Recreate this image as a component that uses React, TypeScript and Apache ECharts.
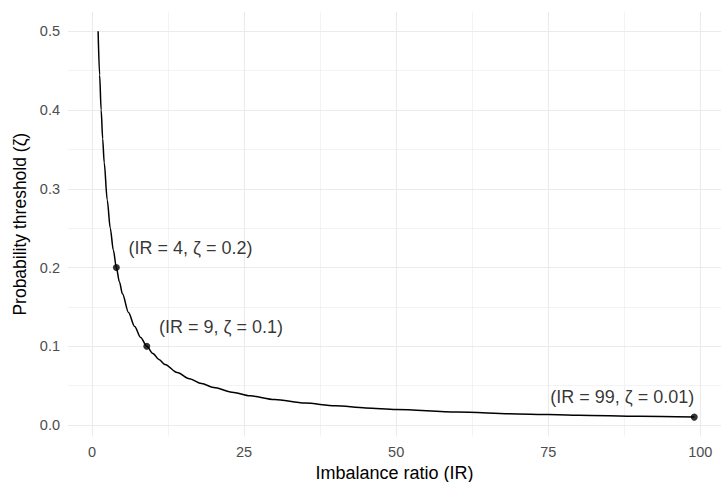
import React, { useEffect, useRef } from "react";
import * as echarts from "echarts";

// Curve: imbalance ratio vs probability threshold
const irValues = [1, 1.25, 1.5, 1.75, 2, 2.5, 3, 3.5, 4, 4.5, 5, 6, 7, 8, 9, 10, 11, 12, 14, 16, 18, 20, 23, 26, 30, 35, 40, 45, 50, 60, 70, 80, 90, 99];
const zetaValues = [0.5, 0.4444, 0.4, 0.3636, 0.3333, 0.2857, 0.25, 0.2222, 0.2, 0.1818, 0.1667, 0.1429, 0.125, 0.1111, 0.1, 0.0909, 0.0833, 0.0769, 0.0667, 0.0588, 0.0526, 0.0476, 0.0417, 0.037, 0.0323, 0.0278, 0.0244, 0.0217, 0.0196, 0.0164, 0.0141, 0.0123, 0.011, 0.01];

// Highlighted points
const pointIR = [4, 9, 99];
const pointZeta = [0.2, 0.1, 0.01];

// Annotations
const annotX = [6, 11, 99];
const annotY = [0.225, 0.125, 0.035];
const annotText = ["(IR = 4, ζ = 0.2)", "(IR = 9, ζ = 0.1)", "(IR = 99, ζ = 0.01)"];
const annotAlign = ["left", "left", "right"];

// Ticks
const xMajor = [0, 25, 50, 75, 100];
const xMinor = [12.5, 37.5, 62.5, 87.5];
const yMajor = [0, 0.1, 0.2, 0.3, 0.4, 0.5];
const yMinor = [0.05, 0.15, 0.25, 0.35, 0.45];

const FONT = "Liberation Sans, Arial, Helvetica, sans-serif";

export default function App() {
  const ref = useRef<HTMLDivElement>(null);
  useEffect(() => {
    if (!ref.current) return;
    const chart = echarts.init(ref.current, null, { renderer: "svg" });
    const grid = "#EBEBEB";
    const gridLines = [
      ...xMinor.map((v) => ({ xAxis: v, lineStyle: { color: grid, width: 0.6, type: "solid" } })),
      ...yMinor.map((v) => ({ yAxis: v, lineStyle: { color: grid, width: 0.6, type: "solid" } })),
      ...xMajor.map((v) => ({ xAxis: v, lineStyle: { color: grid, width: 1.1, type: "solid" } })),
      ...yMajor.map((v) => ({ yAxis: v, lineStyle: { color: grid, width: 1.1, type: "solid" } })),
    ];
    chart.setOption({
      animation: false,
      backgroundColor: "#ffffff",
      grid: { left: 68, right: 0, top: 12, bottom: 45.6, containLabel: false, outerBoundsMode: "none" },
      xAxis: {
        type: "value",
        min: -3.95,
        max: 103.4,
        name: "Imbalance ratio (IR)",
        nameLocation: "middle",
        nameGap: 25,
        nameTextStyle: { color: "#000", fontSize: 18, fontFamily: FONT, verticalAlign: "top" },
        axisLine: { show: false },
        axisTick: { show: false },
        splitLine: { show: false },
        axisLabel: {
          customValues: xMajor,
          color: "#4D4D4D",
          fontSize: 14.5,
          fontFamily: FONT,
          margin: 8,
          formatter: (v: number) => String(v),
        },
      },
      yAxis: {
        type: "value",
        min: -0.0145,
        max: 0.5245,
        name: "Probability threshold (ζ)",
        nameLocation: "middle",
        nameGap: 38,
        nameRotate: 90,
        nameTextStyle: { color: "#000", fontSize: 17.5, fontFamily: FONT },
        axisLine: { show: false },
        axisTick: { show: false },
        splitLine: { show: false },
        axisLabel: {
          customValues: yMajor,
          color: "#4D4D4D",
          fontSize: 14.5,
          fontFamily: FONT,
          margin: 8,
          formatter: (v: number) => v.toFixed(1),
        },
      },
      series: [
        {
          type: "line",
          data: [],
          z: 0,
          silent: true,
          markLine: { z: 0, silent: true, symbol: "none", label: { show: false }, animation: false, data: gridLines },
        },
        {
          type: "line",
          z: 10,
          data: irValues.map((x, i) => [x, zetaValues[i]]),
          showSymbol: false,
          smooth: 0.3,
          smoothMonotone: "x",
          lineStyle: { color: "#000", width: 1.5 },
          silent: true,
        },
        {
          type: "scatter",
          z: 11,
          data: pointIR.map((x, i) => [x, pointZeta[i]]),
          symbolSize: 7,
          itemStyle: { color: "#000" },
          silent: true,
        },
        {
          type: "scatter",
          z: 12,
          symbolSize: 0,
          silent: true,
          data: annotX.map((x, i) => ({
            value: [x, annotY[i]],
            label: {
              show: true,
              formatter: annotText[i],
              position: [0, 0],
              align: annotAlign[i],
              verticalAlign: "middle",
              color: "#000",
              fontSize: 18,
              fontFamily: FONT,
            },
          })),
        },
      ],
    });
    return () => chart.dispose();
  }, []);
  return <div ref={ref} style={{ position: "fixed", left: 0, top: 0, width: 721, height: 482 }} />;
}
